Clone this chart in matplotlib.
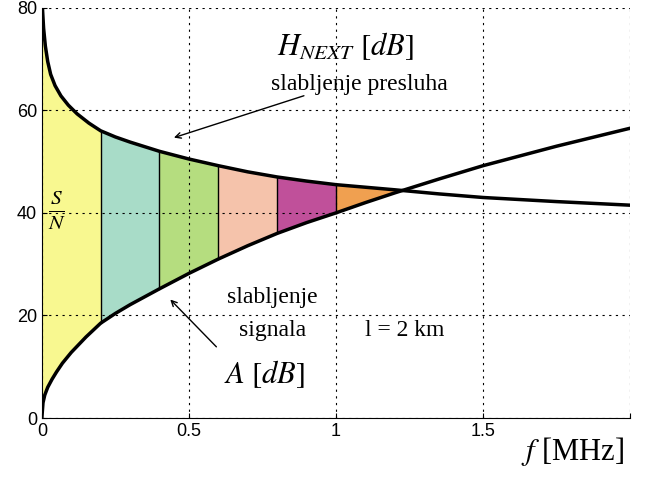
import numpy as np
import matplotlib.pyplot as plt

plt.rcParams['mathtext.fontset'] = 'stix'

# crosstalk attenuation H_NEXT [dB]
next_f = [0.002, 0.006, 0.012, 0.02, 0.03, 0.045, 0.065, 0.09, 0.12, 0.16, 0.2, 0.25, 0.3, 0.4,
          0.5, 0.6, 0.7, 0.8, 0.9, 1.0, 1.1, 1.2, 1.35, 1.5, 1.75, 2.0]
next_db = [80, 76, 72.5, 69.5, 67, 64.8, 62.8, 61, 59.3, 57.5, 56, 54.8, 53.8, 52,
           50.5, 49.2, 48, 47, 46.2, 45.5, 45, 44.5, 43.7, 43, 42.2, 41.5]
# signal attenuation A [dB]
sig_f = [0, 0.004, 0.01, 0.02, 0.035, 0.05, 0.07, 0.1, 0.15, 0.2, 0.25, 0.3, 0.4, 0.5, 0.6,
         0.7, 0.8, 0.9, 1.0, 1.1, 1.2, 1.35, 1.5, 1.75, 2.0]
sig_db = [0, 3, 4.5, 6, 7.6, 9, 10.7, 12.8, 15.8, 18.5, 20.4, 22.1, 25.2, 28.2, 31,
          33.6, 36, 38.1, 40, 42, 43.9, 46.6, 49.2, 53, 56.5]

band_edges = [0, 0.2, 0.4, 0.6, 0.8, 1.0, 1.23]
band_colors = ['#f8f890', '#a8dcc8', '#b5dd7f', '#f5c3ab', '#c0509a', '#f0a050']

fig = plt.figure(figsize=(6.64, 4.8), dpi=100)
ax = fig.add_axes([0.063, 0.129, 0.886, 0.855])

for i, c in enumerate(band_colors):
    xs = np.linspace(band_edges[i], band_edges[i + 1], 80)
    top = np.interp(xs, next_f, next_db)
    bot = np.interp(xs, sig_f, sig_db)
    top = np.maximum(top, bot)
    ax.fill_between(xs, bot, top, color=c, lw=0)
for e in band_edges[1:-1]:
    ax.plot([e, e], [np.interp(e, sig_f, sig_db), np.interp(e, next_f, next_db)], color='black', lw=1)

ax.plot(next_f, next_db, color='black', lw=2.5)
ax.plot(sig_f, sig_db, color='black', lw=2.5)

ax.set_xlim(0, 2.0)
ax.set_ylim(0, 80)
ax.set_xticks([0, 0.5, 1, 1.5, 2.0])
ax.set_xticklabels(['0', '0.5', '1', '1.5', ''])
ax.set_yticks([0, 20, 40, 60, 80])
ax.grid(True, color='black', linestyle=(0, (2, 4)), lw=0.8)
for s in ['top', 'right']:
    ax.spines[s].set_visible(False)
ax.tick_params(labelsize=13, direction='in')
for lab in ax.get_xticklabels() + ax.get_yticklabels():
    lab.set_fontfamily('Liberation Sans')

ser = 'Liberation Serif'
ax.text(1.63, -6.5, r'$f$ [MHz]', fontsize=22, fontfamily=ser, va='center', clip_on=False)
ax.text(0.8, 72.5, r'$H_{NEXT}\ [dB]$', fontsize=22, fontfamily=ser, va='center')
ax.text(0.78, 65, 'slabljenje presluha', fontsize=17, fontfamily=ser, va='center')
ax.annotate('', xy=(0.44, 54.5), xytext=(0.9, 63),
            arrowprops=dict(arrowstyle='->', lw=1, color='black'))
ax.text(0.02, 40.5, r'$\frac{S}{N}$', fontsize=22, fontfamily=ser, va='center')
ax.text(0.63, 23.5, 'slabljenje', fontsize=17, fontfamily=ser, va='center')
ax.text(0.67, 17, 'signala', fontsize=17, fontfamily=ser, va='center')
ax.text(1.1, 17, 'l = 2 km', fontsize=17, fontfamily=ser, va='center')
ax.text(0.62, 8.5, r'$A\ [dB]$', fontsize=22, fontfamily=ser, va='center')
ax.annotate('', xy=(0.43, 23.5), xytext=(0.6, 13.5),
            arrowprops=dict(arrowstyle='->', lw=1, color='black'))

fig.savefig('out.png', dpi=100)
